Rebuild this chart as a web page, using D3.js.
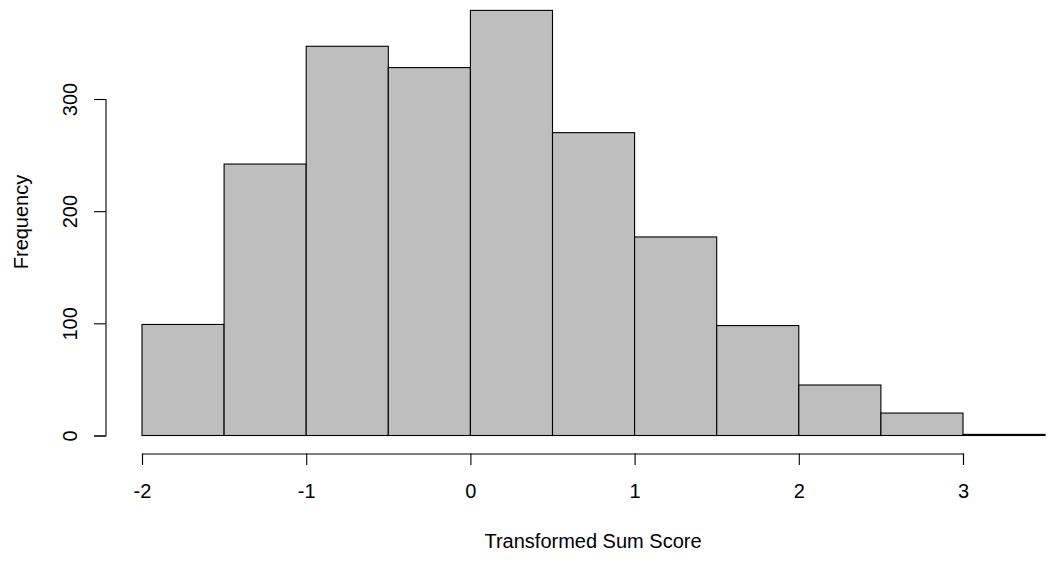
<!DOCTYPE html>
<html>
<head>
<meta charset="utf-8">
<script src="https://cdn.jsdelivr.net/npm/d3@7"></script>
<style>
  html, body { margin: 0; padding: 0; background: #fff; }
  svg { display: block; }
  text { font-family: "Liberation Sans", Arial, sans-serif; fill: #000; }
</style>
</head>
<body>
<script>
// Histogram bins (left edges and right edges) and counts
const binStarts = [-2, -1.5, -1, -0.5, 0, 0.5, 1, 1.5, 2, 2.5, 3];
const binEnds   = [-1.5, -1, -0.5, 0, 0.5, 1, 1.5, 2, 2.5, 3, 3.5];
const counts    = [99, 242, 347, 328, 379, 270, 177, 98, 45, 20, 1];
const xTicks = [-2, -1, 0, 1, 2, 3];
const yTicks = [0, 100, 200, 300];
const xTitle = "Transformed Sum Score";
const yTitle = "Frequency";

const W = 1048, H = 562;
const svg = d3.select("body").append("svg").attr("width", W).attr("height", H);

const x = d3.scaleLinear().domain([-2, 3]).range([142, 963]);
const y = d3.scaleLinear().domain([0, 300]).range([435.5, 99]);

const fontSize = 20;

// bars
const bins = binStarts.map((s, i) => ({ x0: s, x1: binEnds[i], n: counts[i] }));
svg.append("g").selectAll("rect").data(bins).join("rect")
  .attr("x", d => x(d.x0))
  .attr("y", d => y(d.n))
  .attr("width", d => x(d.x1) - x(d.x0))
  .attr("height", d => y(0) - y(d.n))
  .attr("fill", "#BEBEBE")
  .attr("stroke", "#000")
  .attr("stroke-width", 1.1);

// x axis
const xAxisY = 453.5;
const gx = svg.append("g").attr("transform", `translate(0,${xAxisY})`)
  .call(d3.axisBottom(x).tickValues(xTicks).tickSizeOuter(0).tickSize(11.5).tickFormat(d3.format("d")));
gx.select(".domain").attr("stroke", "#000").attr("stroke-width", 1.1);
gx.selectAll(".tick line").attr("stroke", "#000").attr("stroke-width", 1.1);
gx.selectAll(".tick text")
  .attr("y", 44.5).attr("dy", null)
  .attr("font-size", fontSize).attr("font-family", "Liberation Sans, Arial, sans-serif")
  .text(d => d < 0 ? "-" + Math.abs(d) : String(d));

// y axis
const yAxisX = 105.5;
const gy = svg.append("g").attr("transform", `translate(${yAxisX},0)`)
  .call(d3.axisLeft(y).tickValues(yTicks).tickSizeOuter(0).tickSize(11.5).tickFormat(d3.format("d")));
gy.select(".domain").attr("stroke", "#000").attr("stroke-width", 1.1);
gy.selectAll(".tick line").attr("stroke", "#000").attr("stroke-width", 1.1);
gy.selectAll(".tick text")
  .attr("x", null).attr("dy", null)
  .attr("text-anchor", "middle")
  .attr("transform", "translate(-28.5,0) rotate(-90)")
  .attr("font-size", fontSize).attr("font-family", "Liberation Sans, Arial, sans-serif");

// titles
svg.append("text")
  .attr("x", 593).attr("y", 548)
  .attr("text-anchor", "middle")
  .attr("font-size", fontSize)
  .text(xTitle);

svg.append("text")
  .attr("transform", "translate(28,222) rotate(-90)")
  .attr("text-anchor", "middle")
  .attr("font-size", fontSize)
  .text(yTitle);
</script>
</body>
</html>
